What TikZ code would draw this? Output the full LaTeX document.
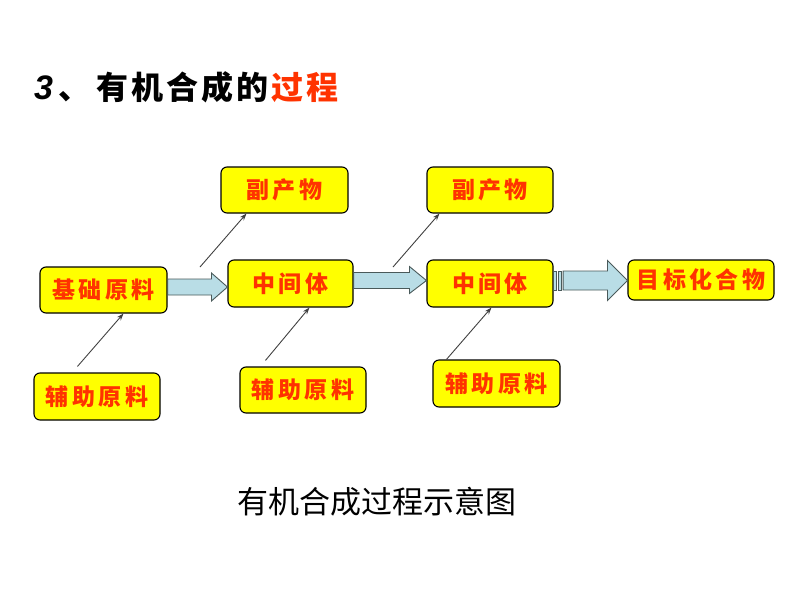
\documentclass[tikz,border=0pt]{standalone}
\usepackage{fontspec}
\newfontfamily\cjk{Noto Sans CJK SC}
\newfontfamily\latinf{Liberation Sans}
\usetikzlibrary{arrows.meta,calc}
\definecolor{txtred}{HTML}{FF3300}
\definecolor{boxyellow}{HTML}{FFFF00}
\definecolor{arrfill}{HTML}{B9DDE6}
\definecolor{arrline}{HTML}{4A5A5A}
\newcommand{\gp}{\kern3.5pt}
\newcommand{\tgp}{\kern3pt}
\begin{document}
\begin{tikzpicture}[x=1pt,y=-1pt,
  box/.style={draw=black,line width=1.1pt,fill=boxyellow,rounded corners=6pt,inner sep=0pt,
    font=\cjk\bfseries\fontsize{23}{23}\selectfont,text=txtred},
  barrow/.style={draw=arrline,line width=0.9pt,fill=arrfill,line join=miter},
  thinarrow/.style={draw=black!75,line width=0.9pt,-{Stealth[length=7pt,width=5pt]}}]
\useasboundingbox (0,0) rectangle (800,600);

% title
\node[anchor=west,inner sep=0pt] (title3) at (34,88)
  {\latinf\bfseries\itshape\fontsize{34}{34}\selectfont 3};
\node[anchor=west,inner sep=0pt] (title) at (58,87)
  {\cjk\bfseries\fontsize{32}{32}\selectfont 、\kern6pt 有\tgp 机\tgp 合\tgp 成\tgp 的\tgp\textcolor{txtred}{过\tgp 程}};

% boxes
\node[box,minimum width=127pt,minimum height=46pt] (fc1) at (284.5,190) {副\gp 产\gp 物};
\node[box,minimum width=126pt,minimum height=46pt] (fc2) at (490,190) {副\gp 产\gp 物};
\node[box,minimum width=127pt,minimum height=46pt] (jc) at (103.5,290) {基\gp 础\gp 原\gp 料};
\node[box,minimum width=125pt,minimum height=47pt] (zj1) at (290.5,283.5) {中\gp 间\gp 体};
\node[box,minimum width=126pt,minimum height=47pt] (zj2) at (490,283.5) {中\gp 间\gp 体};
\node[box,minimum width=146pt,minimum height=40pt] (mb) at (701,280) {目\gp 标\gp 化\gp 合\gp 物};
\node[box,minimum width=126pt,minimum height=47pt] (fz1) at (97,396.5) {辅\gp 助\gp 原\gp 料};
\node[box,minimum width=126pt,minimum height=46pt] (fz2) at (303,390) {辅\gp 助\gp 原\gp 料};
\node[box,minimum width=127pt,minimum height=47pt] (fz3) at (496.5,383.5) {辅\gp 助\gp 原\gp 料};

% block arrows
\path (jc.east |- 0,287) coordinate (a1s) (zj1.west |- 0,287) coordinate (a1e);
\draw[barrow] ($(a1s)+(0,-8)$) -- ($(a1e)+(-16,-8)$) -- ($(a1e)+(-16,-14)$) -- (a1e)
  -- ($(a1e)+(-16,14)$) -- ($(a1e)+(-16,8)$) -- ($(a1s)+(0,8)$) -- cycle;

\path (zj1.east |- 0,280.5) coordinate (a2s) (zj2.west |- 0,280.5) coordinate (a2e);
\draw[barrow] ($(a2s)+(0,-8)$) -- ($(a2e)+(-17,-8)$) -- ($(a2e)+(-17,-14)$) -- (a2e)
  -- ($(a2e)+(-17,13)$) -- ($(a2e)+(-17,8)$) -- ($(a2s)+(0,8)$) -- cycle;

\path (zj2.east |- 0,280.5) coordinate (a3s) (mb.west |- 0,280.5) coordinate (a3e);
\draw[barrow] ($(a3s)+(0,-9.5)$) rectangle ($(a3s)+(3,9.5)$);
\draw[barrow] ($(a3s)+(4.5,-9.5)$) rectangle ($(a3s)+(8,9.5)$);
\draw[barrow] ($(a3s)+(9.5,-9.5)$) -- ($(a3e)+(-20,-9.5)$) -- ($(a3e)+(-20,-20)$) -- (a3e)
  -- ($(a3e)+(-20,20)$) -- ($(a3e)+(-20,9.5)$) -- ($(a3s)+(9.5,9.5)$) -- cycle;

% thin arrows
\coordinate (t1s) at (200,267);
\coordinate (t2s) at (393,267);
\draw[thinarrow] (t1s) -- ($(fc1.south west)+(26,0)$);
\draw[thinarrow] (t2s) -- ($(fc2.south west)+(13,0)$);
\draw[thinarrow] ($(fz1.north west)+(44,-6)$) -- ($(jc.south west)+(84,0)$);
\draw[thinarrow] ($(fz2.north west)+(26,-6)$) -- ($(zj1.south west)+(82,0)$);
\draw[thinarrow] ($(fz3.north west)+(14,0)$) -- ($(zj2.south west)+(65,0)$);

% caption
\node[inner sep=0pt] (cap) at (377,502) {\cjk\fontsize{31}{31}\selectfont 有机合成过程示意图};
\end{tikzpicture}
\end{document}
